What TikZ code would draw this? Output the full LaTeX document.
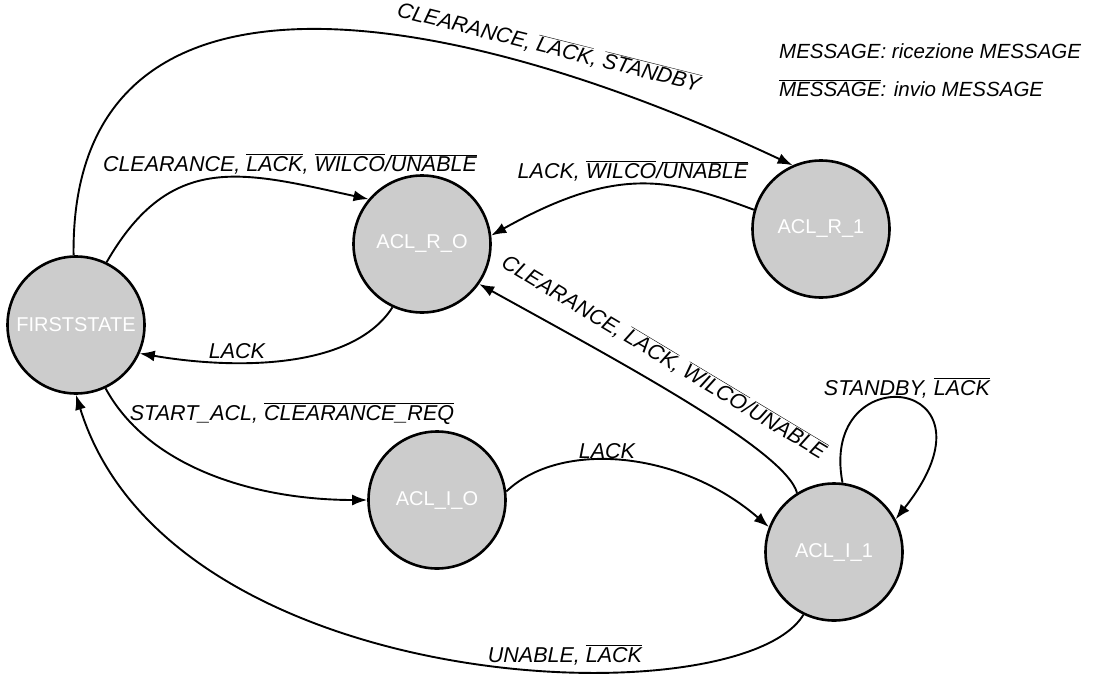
\documentclass[tikz,border=0pt]{standalone}
\usepackage{fontspec}
\setmainfont{Liberation Sans}
\usetikzlibrary{arrows.meta}
\newcommand{\ovl}[1]{$\overline{\mbox{#1}}$}
\tikzset{
  state/.style={circle, draw=black, line width=2.6pt, fill={rgb,255:red,204;green,204;blue,204},
    minimum size=137pt, inner sep=0pt, text=white, font=\fontsize{20}{24}\selectfont},
  edge/.style={line width=1.9pt, -{Latex[length=15pt,width=11pt]}},
  lbl/.style={inner sep=0pt, font=\fontsize{21.5}{25}\selectfont\itshape},
  lgd/.style={inner sep=0pt, anchor=base west, font=\fontsize{20.5}{24}\selectfont\itshape}
}
\begin{document}
\begin{tikzpicture}[x=1pt,y=-1pt]
\path[use as bounding box] (0,0) rectangle (1101,675);

\node[state] (FS) at (76,325) {FIRSTSTATE};
\node[state] (R0) at (422,244) {ACL\_R\_O};
\node[state] (R1) at (821,229) {ACL\_R\_1};
\node[state] (I0) at (437,500) {ACL\_I\_O};
\node[state] (I1) at (834,552) {ACL\_I\_1};

% FIRSTSTATE -> ACL_R_1
\draw[edge] (FS.92) .. controls (70,-55) and (430,-5) .. (R1.114);
\node[lbl, rotate=-14] (l1) at (549,47) {CLEARANCE, \ovl{LACK}, \ovl{STANDBY}};

% FIRSTSTATE -> ACL_R_O
\draw[edge] (FS.64) .. controls (171,150) and (244,172) .. (R0.140);
\node[lbl, anchor=base] (l2) at (290,171) {CLEARANCE, \ovl{LACK}, \ovl{WILCO}/\ovl{UNABLE}};

% ACL_R_1 -> ACL_R_O
\draw[edge] (R1.164) .. controls (671,179) and (619,164) .. (R0.7);
\node[lbl, anchor=base] (l3) at (633,178) {LACK, \ovl{WILCO}/\ovl{UNABLE}};

% ACL_R_O -> FIRSTSTATE
\draw[edge] (R0.-115) .. controls (353,369) and (237,370) .. (FS.-24);
\node[lbl, anchor=base] (l4) at (237,358) {LACK};

% FIRSTSTATE -> ACL_I_O
\draw[edge] (FS.-65) .. controls (150,470) and (260,500) .. (I0.180);
\node[lbl, anchor=base] (l5) at (292,420) {START\_ACL, \ovl{CLEARANCE\_REQ}};

% ACL_I_O -> ACL_I_1
\draw[edge] (I0.7) .. controls (560,440) and (680,450) .. (I1.159);
\node[lbl, anchor=base] (l6) at (607,458) {LACK};

% ACL_I_1 -> ACL_R_O
\draw[edge] (I1.122) .. controls (785,450) and (620,362) .. (R0.-35);
\node[lbl, rotate=-31] (l7) at (664,357) {CLEARANCE, \ovl{LACK}, \ovl{WILCO}/\ovl{UNABLE}};

% ACL_I_1 self loop
\draw[edge] (I1.83) .. controls (818,355) and (1010,375) .. (I1.28);
\node[lbl, anchor=base] (l8) at (907,395) {STANDBY, \ovl{LACK}};

% ACL_I_1 -> FIRSTSTATE
\draw[edge] (I1.-116) .. controls (740,720) and (170,700) .. (FS.-90);
\node[lbl, anchor=base] (l9) at (565,662) {UNABLE, \ovl{LACK}};

% legend
\node[lgd] (lg1) at (779,58) {MESSAGE: ricezione MESSAGE};
\node[lgd] (lg2) at (779,96) {\ovl{MESSAGE}: invio MESSAGE};
\end{tikzpicture}
\end{document}
